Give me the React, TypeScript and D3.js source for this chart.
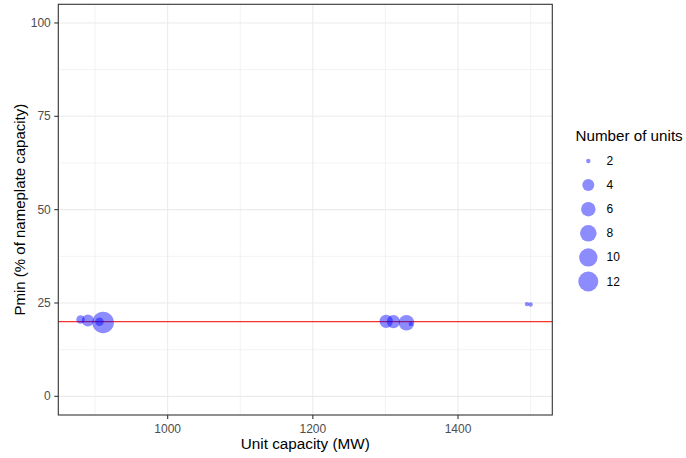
import React from "react";
import * as d3 from "d3";

const capacity = [880, 890, 906, 911, 1301, 1311, 1329, 1335, 1495, 1500];
const pmin = [20.6, 20.3, 20.0, 19.8, 20.1, 20.0, 19.7, 19.4, 24.7, 24.6];
const units = [3, 4, 3, 14, 5, 5, 7, 2, 2, 2];
const legendBreaks = [2, 4, 6, 8, 10, 12];
const xTicks = [1000, 1200, 1400];
const xMinor = [900, 1100, 1300, 1500];
const yTicks = [0, 25, 50, 75, 100];
const yMinor = [12.5, 37.5, 62.5, 87.5];
const refLine = 20;

const W = 686, H = 458;
const M = { left: 58.3, right: 552.3, top: 4.3, bottom: 415 };
const font = "'Liberation Sans', Arial, Helvetica, sans-serif";

export default function App() {
  const x = d3.scaleLinear().domain([849.3, 1529.9]).range([M.left, M.right]);
  const y = d3.scaleLinear().domain([-5, 105]).range([M.bottom, M.top]);
  const r = d3.scaleSqrt().domain([2, 4, 12]).range([2.2, 6.0, 10]);
  const fill = "rgba(0,0,255,0.45)";
  const grid = "#EBEBEB";
  const idx = d3.range(capacity.length);
  return (
    <svg width={W} height={H} style={{ position: "absolute", left: 0, top: 0, background: "#fff" }}>
      <rect x={0} y={0} width={W} height={H} fill="#fff" />
      {xMinor.map((v) => (
        <line key={"xm" + v} x1={x(v)} x2={x(v)} y1={M.top} y2={M.bottom} stroke={grid} strokeWidth={0.6} />
      ))}
      {yMinor.map((v) => (
        <line key={"ym" + v} x1={M.left} x2={M.right} y1={y(v)} y2={y(v)} stroke={grid} strokeWidth={0.6} />
      ))}
      {xTicks.map((v) => (
        <line key={"xg" + v} x1={x(v)} x2={x(v)} y1={M.top} y2={M.bottom} stroke={grid} strokeWidth={1.1} />
      ))}
      {yTicks.map((v) => (
        <line key={"yg" + v} x1={M.left} x2={M.right} y1={y(v)} y2={y(v)} stroke={grid} strokeWidth={1.1} />
      ))}
      <line x1={M.left} x2={M.right} y1={y(refLine)} y2={y(refLine)} stroke="#F5332A" strokeWidth={1.3} />
      {idx.map((i) => (
        <circle key={"p" + i} cx={x(capacity[i])} cy={y(pmin[i])} r={r(units[i])} fill={fill} />
      ))}
      <rect x={M.left} y={M.top} width={M.right - M.left} height={M.bottom - M.top} fill="none" stroke="#333333" strokeWidth={1.1} />
      {xTicks.map((v) => (
        <g key={"xt" + v}>
          <line x1={x(v)} x2={x(v)} y1={M.bottom} y2={M.bottom + 4} stroke="#333333" strokeWidth={1.1} />
          <text x={x(v)} y={M.bottom + 13.5} textAnchor="middle" dominantBaseline="central" fontFamily={font} fontSize={12} fill="#4D4D4D">{v}</text>
        </g>
      ))}
      {yTicks.map((v) => (
        <g key={"yt" + v}>
          <line x1={M.left - 4} x2={M.left} y1={y(v)} y2={y(v)} stroke="#333333" strokeWidth={1.1} />
          <text x={M.left - 7.5} y={y(v)} textAnchor="end" dominantBaseline="central" fontFamily={font} fontSize={12} fill="#4D4D4D">{v}</text>
        </g>
      ))}
      <text x={(M.left + M.right) / 2} y={443} textAnchor="middle" dominantBaseline="central" fontFamily={font} fontSize={15.3} fill="#000">Unit capacity (MW)</text>
      <text transform={`translate(19.5,${(M.top + M.bottom) / 2}) rotate(-90)`} textAnchor="middle" dominantBaseline="central" fontFamily={font} fontSize={15} fill="#000">Pmin (% of nameplate capacity)</text>
      <text x={575.5} y={135} dominantBaseline="central" fontFamily={font} fontSize={15.2} fill="#000">Number of units</text>
      {legendBreaks.map((v, i) => (
        <g key={"lg" + v}>
          <circle cx={588.3} cy={161 + i * 24.1} r={r(v)} fill={fill} />
          <text x={606.5} y={161 + i * 24.1} dominantBaseline="central" fontFamily={font} fontSize={12} fill="#000">{v}</text>
        </g>
      ))}
    </svg>
  );
}
